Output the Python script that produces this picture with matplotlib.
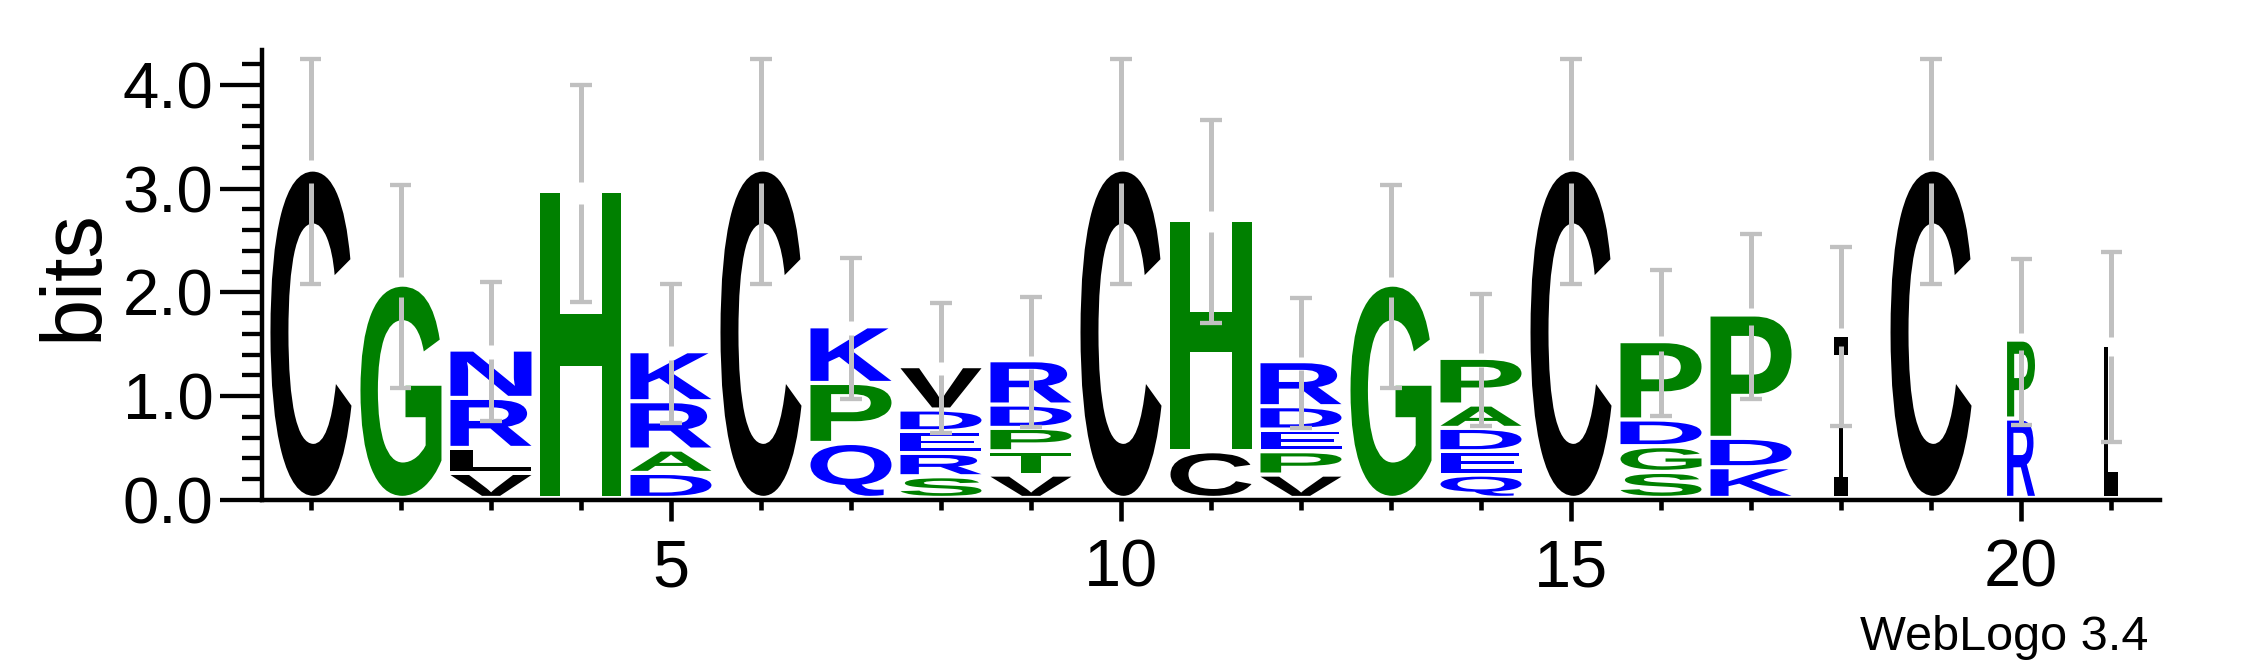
import matplotlib
matplotlib.use("Agg")
import matplotlib.pyplot as plt
from matplotlib.textpath import TextPath
from matplotlib.patches import PathPatch
from matplotlib.font_manager import FontProperties
from matplotlib.transforms import Affine2D
from matplotlib.ticker import MultipleLocator, FormatStrFormatter

plt.rcParams['font.family'] = ['Liberation Sans', 'DejaVu Sans']

# sequence logo data: letters listed bottom -> top for every position
positions = list(range(1, 22))
stack_letters = ["C", "G", "VLRN", "H", "DARK", "C", "QPK", "SREDV", "VTPDR", "C",
                 "CH", "VPEDR", "G", "QEDAP", "C", "SGDP", "KDP", "I", "C", "RP", "L"]
stack_heights = [
    [3.165],
    [2.056],
    [0.241, 0.241, 0.482, 0.466],
    [2.956],
    [0.241, 0.225, 0.466, 0.482],
    [3.165],
    [0.530, 0.578, 0.546],
    [0.209, 0.225, 0.209, 0.209, 0.418],
    [0.225, 0.225, 0.225, 0.225, 0.427],
    [3.165],
    [0.450, 2.233],
    [0.225, 0.225, 0.209, 0.225, 0.434],
    [2.056],
    [0.225, 0.225, 0.225, 0.225, 0.450],
    [3.165],
    [0.251, 0.248, 0.257, 0.755],
    [0.296, 0.283, 1.189],
    [1.574],
    [3.165],
    [0.765, 0.761],
    [1.478],
]
error_bars = [1.085, 0.98, 0.67, 1.045, 0.67, 1.085, 0.683, 0.627, 0.627, 1.085, 0.975,
              0.627, 0.98, 0.638, 1.085, 0.705, 0.795, 0.863, 1.085, 0.80, 0.916]
# fraction of non-gap symbols -> stack width
stack_widths = [1.0] * 17 + [0.17, 1.0, 0.345, 0.17]

letter_colors = {
    "C": "#000000", "V": "#000000", "L": "#000000", "I": "#000000",
    "G": "#008000", "H": "#008000", "A": "#008000", "P": "#008000",
    "S": "#008000", "T": "#008000",
    "N": "#0000ff", "R": "#0000ff", "K": "#0000ff", "D": "#0000ff",
    "Q": "#0000ff", "E": "#0000ff",
}

bold_font = FontProperties(family="Liberation Sans", weight="bold")
glyph_fonts = {"I": FontProperties(family="Liberation Mono")}


def draw_letter(ax, ch, x, y0, h, w, color, pad=0.04):
    tp = TextPath((0, 0), ch, size=1, prop=glyph_fonts.get(ch, bold_font))
    bb = tp.get_extents()
    gh = max(h - pad, 0.005)
    t = (Affine2D().translate(-bb.x0, -bb.y0)
         .scale(w / bb.width, gh / bb.height)
         .translate(x - w / 2.0, y0 + pad))
    ax.add_patch(PathPatch(t.transform_path(tp), facecolor=color, edgecolor="none", lw=0))


fig = plt.figure(figsize=(22.5, 6.67), dpi=100)
ax = fig.add_axes([262 / 2250, 167 / 667, 1898 / 2250, 450 / 667])

for x, letters, hs, frac in zip(positions, stack_letters, stack_heights, stack_widths):
    y = 0.0
    for ch, h in zip(letters, hs):
        draw_letter(ax, ch, x, y, h, 0.9 * frac, letter_colors[ch])
        y += h

# error bars, with a small break around the top of each stack
gray = "#c0c0c0"
for x, hs, e in zip(positions, stack_heights, error_bars):
    top = sum(hs)
    gap = 0.1 * e
    ax.vlines(x, top + gap, top + e, color=gray, lw=3.6, zorder=5)
    ax.vlines(x, top - e, top - gap, color=gray, lw=3.6, zorder=5)
    ax.hlines([top + e, top - e], x - 0.117, x + 0.117, color=gray, lw=3.1, zorder=5)

ax.set_xlim(0.456, 21.544)
ax.set_ylim(0, 4.337)

for s in ["top", "right"]:
    ax.spines[s].set_visible(False)
for s in ["left", "bottom"]:
    ax.spines[s].set_linewidth(3.2)

ax.yaxis.set_major_locator(MultipleLocator(1))
ax.yaxis.set_minor_locator(MultipleLocator(0.2))
ax.yaxis.set_major_formatter(FormatStrFormatter("%.1f"))
ax.tick_params(axis="y", which="major", length=30, width=3.1, pad=5, labelsize=47)
ax.tick_params(axis="y", which="minor", length=14.5, width=3.1)

ax.set_xticks([5, 10, 15, 20])
ax.set_xticks(positions, minor=True)
ax.tick_params(axis="x", which="major", length=15, width=3.3, pad=13, labelsize=48)
ax.tick_params(axis="x", which="minor", length=7.2, width=3.3)

ax.set_ylabel("bits", fontsize=61, labelpad=6)

fig.text(2148 / 2250, 17 / 667, "WebLogo 3.4", ha="right", va="baseline", fontsize=35)

fig.savefig("out.png", dpi=100)
